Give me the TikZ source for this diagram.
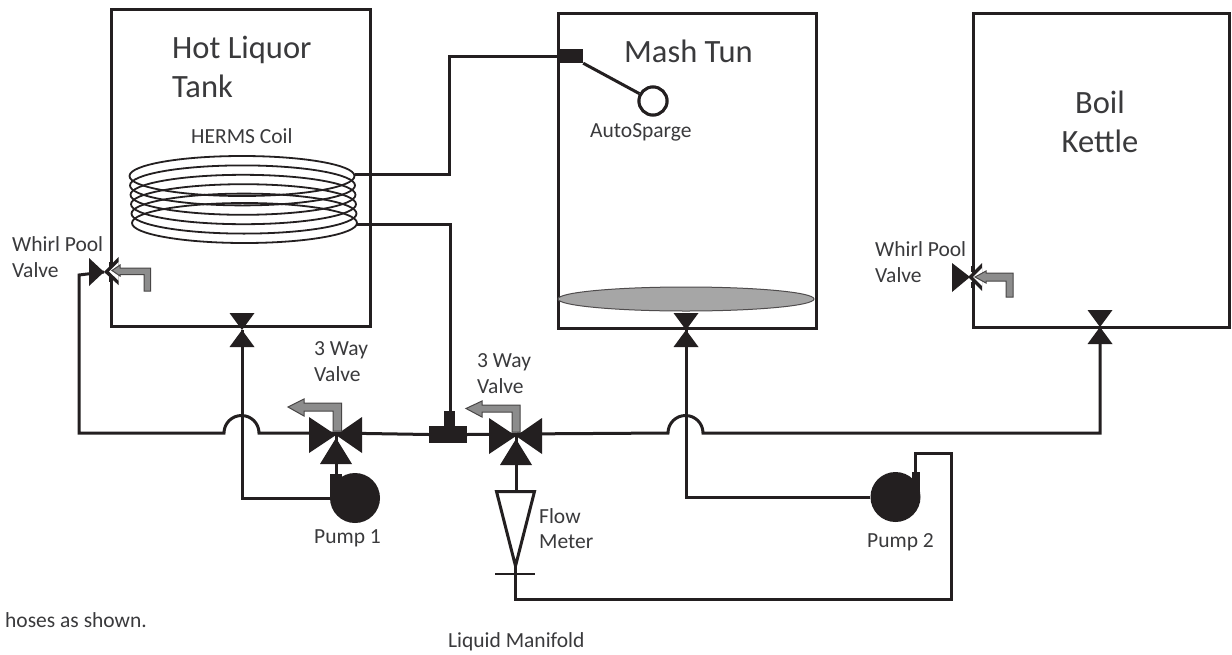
\documentclass[tikz,border=0pt]{standalone}
\usepackage{fontspec}
\setmainfont{Carlito}
\usetikzlibrary{calc,shapes.geometric}
\definecolor{ink}{HTML}{231F20}
\definecolor{txt}{HTML}{3A3A3C}
\definecolor{flowgrey}{HTML}{8C8C8C}
\tikzset{
  tank/.style={draw=ink,line width=3pt,anchor=north west,inner sep=0pt},
  pipe/.style={draw=ink,line width=3pt,line join=miter},
  thin pipe/.style={draw=ink,line width=2.5pt},
  coilturn/.style={draw=ink,line width=1.8pt},
  bigtext/.style={text=txt,font=\fontsize{32.5}{38}\selectfont,anchor=base west,inner sep=0pt},
  smalltext/.style={text=txt,font=\fontsize{21.5}{26}\selectfont,anchor=base west,inner sep=0pt},
  blacktri/.style={fill=ink,draw=none},
  flowarrow/.style={draw=ink!60!gray,fill=flowgrey,line width=1pt},
  pumpbody/.style={circle,fill=ink,inner sep=0pt,minimum size=50pt},
  sparge/.style={circle,draw=ink,fill=white,line width=3pt,inner sep=0pt,minimum size=28pt},
}
\begin{document}
\begin{tikzpicture}[x=1pt,y=-1pt]
\useasboundingbox (0,0) rectangle (1232,654);
\fill[white] (0,0) rectangle (1232,654);

% tanks
\node[tank,minimum width=259pt,minimum height=317pt] (hlt) at (109.5,8) {};
\node[tank,minimum width=258pt,minimum height=315pt] (mash) at (557,12) {};
\node[tank,minimum width=256pt,minimum height=314pt] (boil) at (972,12) {};

% false bottom
\node[ellipse,draw=ink!80,fill=black!35,line width=1pt,minimum width=256pt,minimum height=24pt,inner sep=0pt] (bottom) at (686,299) {};

% HERMS coil
\foreach \yy/\xx in {176/242,185.4/242.5,194.8/243,204.2/243.5,213.6/244,223/244.5}{
  \draw[coilturn] (\xx,\yy) ellipse (112.5pt and 20pt);
}
\coordinate (coilout) at (355,174);
\coordinate (coilin) at (357,224);

% node coordinates
\coordinate (hltvalve) at (242,330);
\coordinate (mashvalve) at (686,330);
\coordinate (boilvalve) at (1100,327);
\coordinate (wp1) at (104,272);
\coordinate (v1) at (336,433);
\coordinate (v2) at (516,434);
\node[pumpbody] (p1) at (355,498) {};
\node[pumpbody] (p2) at (895.5,497) {};
\node[fill=ink,minimum width=38pt,minimum height=17pt,inner sep=0pt] (tee) at (448,434.5) {};
\node[fill=ink,minimum width=25pt,minimum height=14pt,inner sep=0pt] (inlet) at (570.5,56) {};
\node[sparge] (sp) at (653,101) {};

% pipes
\draw[pipe] (coilout) -| (449,56) -- (inlet.west);
\draw[pipe] (inlet.south east) -- (sp);
\node[sparge] at (sp) {};
\draw[pipe] (coilin) -| (450,426);
\fill[ink] (444,411) rectangle (455,427);
% whirlpool return
\draw[pipe] (wp1) -- (79,275) -- (79,433) -- (224,433) arc[start angle=180,end angle=0,radius=17.5pt] -- (v1);
\draw[pipe] (v1) -- (tee.west);
\draw[pipe] (tee.east) -- (v2);
\draw[pipe] (v2) -- (668,433) arc[start angle=180,end angle=0,radius=17.5pt] -- (1100,433) -- (boilvalve);
\draw[pipe] (p1.west) -- (242,498) -- (hltvalve);
\draw[pipe] (p2.west) -- (686,497) -- (mashvalve);
\draw[pipe] (v1) -- (336,476);
\fill[ink] (330,474) rectangle (342,498);
\fill[ink] (912,472) rectangle (920,497);
% flow meter
\draw[pipe] (v2) -- (516,491);
\draw[pipe] (496.5,491.5) -- (534.5,491.5) -- (515.5,566) -- cycle;
\draw[thin pipe] (495,574) -- (535,574);
\draw[pipe] (515.5,566) -- (515.5,599) -- (951.5,599) -- (951.5,453) -- (915.5,453) -- (915.5,474);

% valves on tanks
\foreach \c in {hltvalve,mashvalve,boilvalve}{
  \fill[blacktri] ($(\c)+(-12.5,-17)$) -- ($(\c)+(12.5,-17)$) -- ($(\c)+(0,0)$) -- cycle;
  \fill[blacktri] ($(\c)+(-12.5,17)$) -- ($(\c)+(12.5,17)$) -- ($(\c)+(0,0)$) -- cycle;
}
% whirl pool valves
\fill[blacktri] (89,258) -- (89,286) -- (104,272) -- cycle;
\fill[blacktri] (118.5,257) -- (118.5,285) -- (104,272) -- cycle;
\fill[white] (118.5,262) -- (118.5,280.5) -- (109,271.5) -- cycle;
\draw[ink,line width=3pt] (110,262) -- (110,268) (110,276) -- (110,282);
\fill[blacktri] (952,263) -- (952,292) -- (970,277) -- cycle;
\fill[blacktri] (982,263) -- (982,291) -- (968,277) -- cycle;
\fill[white] (982,268) -- (982,286) -- (973,277) -- cycle;
\draw[ink,line width=3pt] (972,266) -- (972,272) (972,282) -- (972,288);
% three way valves
\foreach \c in {v1,v2}{
  \fill[blacktri] ($(\c)+(-27,-16)$) -- ($(\c)+(-27,20)$) -- ($(\c)+(0,2)$) -- cycle;
  \fill[blacktri] ($(\c)+(26,-16)$) -- ($(\c)+(26,20)$) -- ($(\c)+(0,2)$) -- cycle;
  \fill[blacktri] ($(\c)+(-16,31)$) -- ($(\c)+(16,31)$) -- ($(\c)+(0,5)$) -- cycle;
}
% flow direction arrows
\draw[flowarrow] (144,291) -- (150.5,291) -- (150.5,268) -- (120,268) -- (120,265) -- (112,270.5) -- (120,276) -- (120,274.5) -- (144,274.5) -- cycle;
\draw[flowarrow] (1006,297) -- (1013,297) -- (1013,273) -- (986,273) -- (986,271) -- (975,277) -- (986,283) -- (986,281) -- (1006,281) -- cycle;
\draw[flowarrow] (333,431) -- (341.5,431) -- (341.5,403) -- (304,403) -- (304,399) -- (288,407) -- (304,416) -- (304,411) -- (333,411) -- cycle;
\draw[flowarrow] (512,432) -- (520,432) -- (520,405) -- (482,405) -- (482,401) -- (466,408.5) -- (482,417) -- (482,412) -- (512,412) -- cycle;

% labels
\node[bigtext] (l1a) at (172,58) {Hot Liquor};
\node[bigtext] (l1b) at (172,97) {Tank};
\node[bigtext] (l2) at (624,62) {Mash Tun};
\node[bigtext,anchor=base] (l3a) at (1100,113) {Boil};
\node[bigtext,anchor=base] (l3b) at (1100,152) {Kettle};
\node[smalltext] (l4) at (191,143) {HERMS Coil};
\node[smalltext] (l5) at (590,137) {AutoSparge};
\node[smalltext] (l6a) at (12,251) {Whirl Pool};
\node[smalltext] (l6b) at (12,277) {Valve};
\node[smalltext] (l7a) at (875,256) {Whirl Pool};
\node[smalltext] (l7b) at (875,282) {Valve};
\node[smalltext] (l8a) at (314,355) {3 Way};
\node[smalltext] (l8b) at (314,381) {Valve};
\node[smalltext] (l9a) at (477,367) {3 Way};
\node[smalltext] (l9b) at (477,393) {Valve};
\node[smalltext] (l10a) at (539,523) {Flow};
\node[smalltext] (l10b) at (539,548) {Meter};
\node[smalltext] (l11) at (314,543) {Pump 1};
\node[smalltext] (l12) at (867,547) {Pump 2};
\node[smalltext] (l13) at (5,627) {hoses as shown.};
\node[smalltext] (l14) at (448,647) {Liquid Manifold};
\end{tikzpicture}
\end{document}
